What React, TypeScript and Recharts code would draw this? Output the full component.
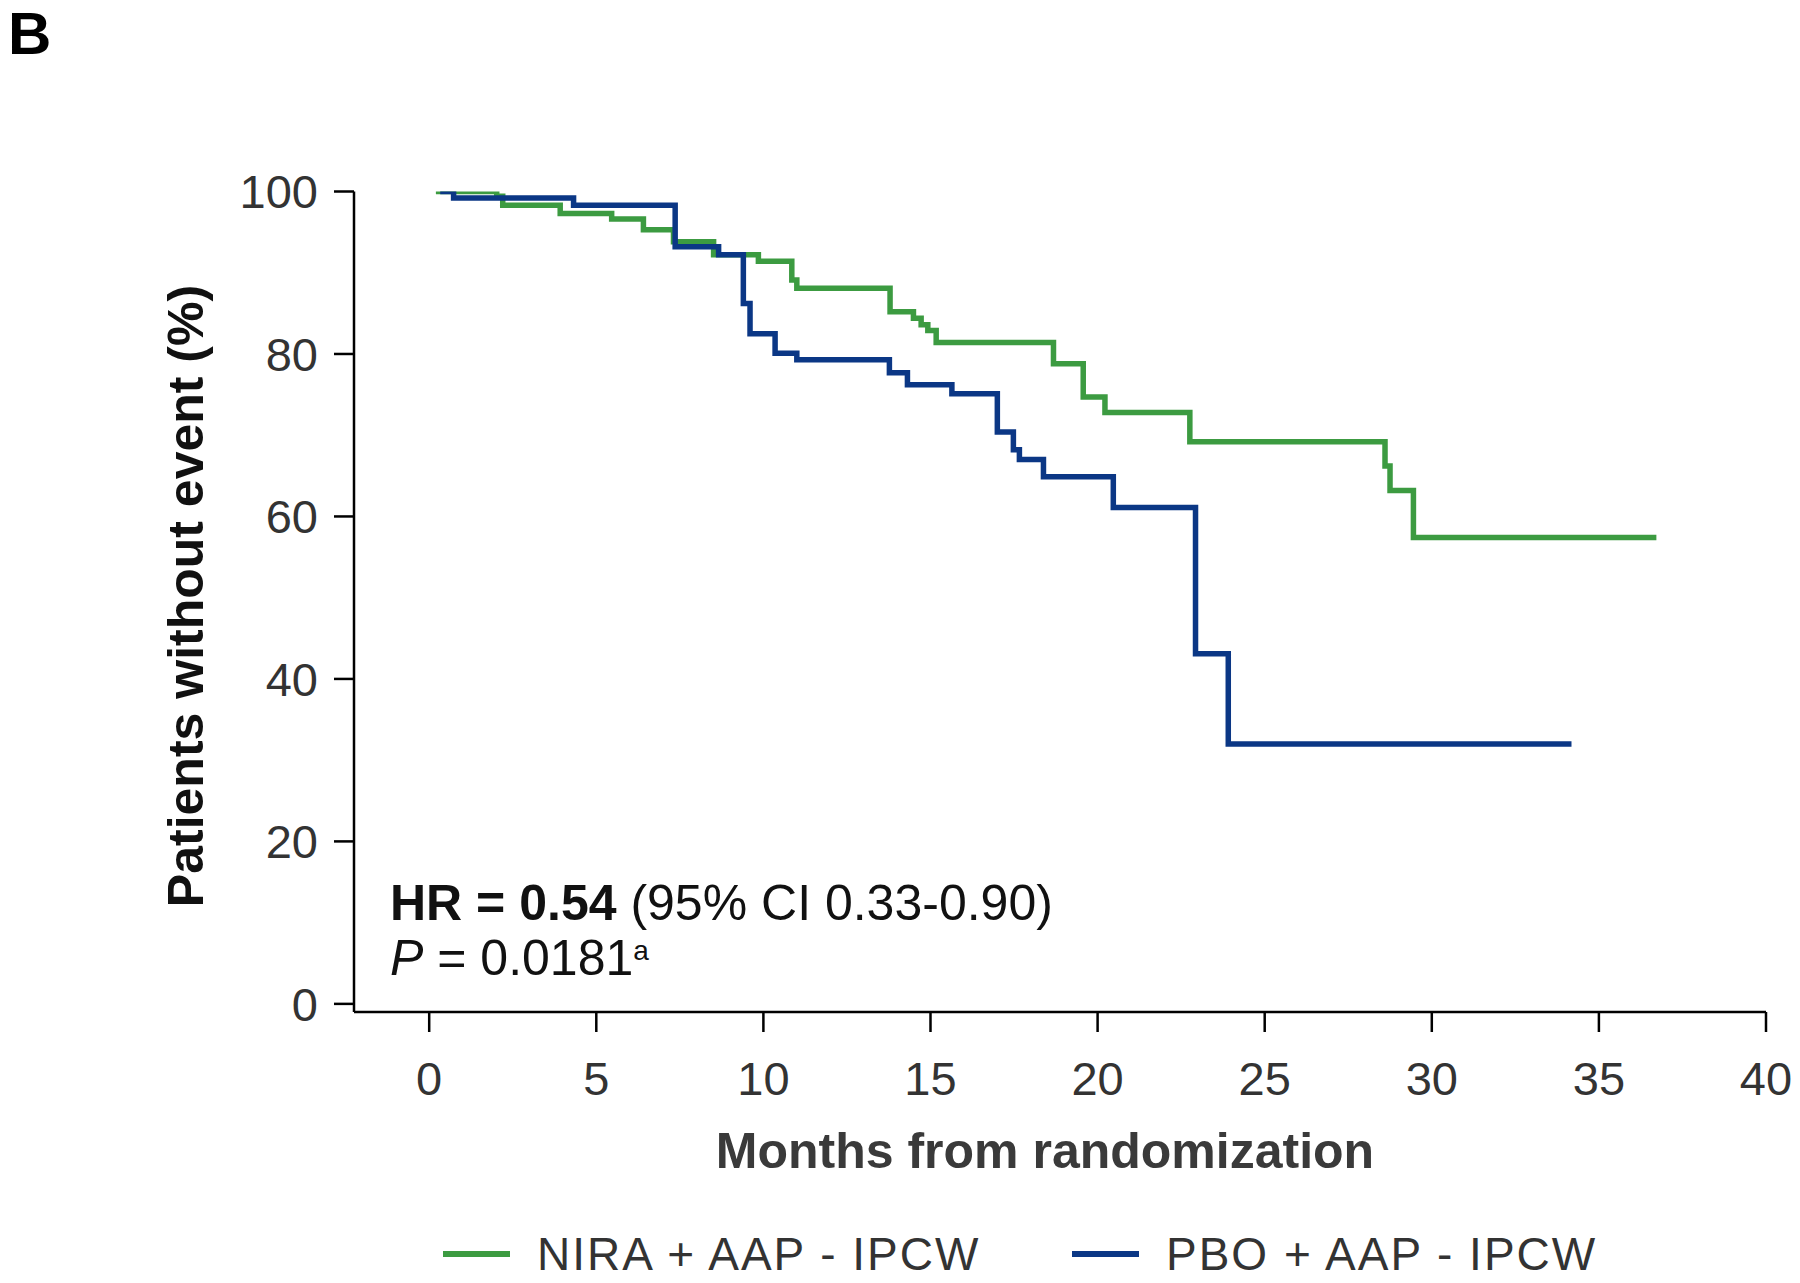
import React from "react"
import { LineChart, Line, XAxis, YAxis } from "recharts"

// Kaplan-Meier steps: month at which each level starts, % without event
const niraSteps = [
  { month: 0.2, pct: 100 },
  { month: 2.02, pct: 99.4 },
  { month: 2.2, pct: 98.3 },
  { month: 3.92, pct: 97.3 },
  { month: 5.46, pct: 96.6 },
  { month: 6.41, pct: 95.3 },
  { month: 7.31, pct: 93.8 },
  { month: 8.51, pct: 92.2 },
  { month: 9.85, pct: 91.4 },
  { month: 10.85, pct: 89.1 },
  { month: 11.0, pct: 88.1 },
  { month: 13.79, pct: 85.2 },
  { month: 14.49, pct: 84.4 },
  { month: 14.72, pct: 83.6 },
  { month: 14.92, pct: 82.9 },
  { month: 15.17, pct: 81.4 },
  { month: 18.68, pct: 78.8 },
  { month: 19.57, pct: 74.7 },
  { month: 20.22, pct: 72.8 },
  { month: 22.76, pct: 69.2 },
  { month: 28.6, pct: 66.2 },
  { month: 28.75, pct: 63.2 },
  { month: 29.45, pct: 57.4 },
  { month: 36.72, pct: 57.4 },
]

const pboSteps = [
  { month: 0.33, pct: 100 },
  { month: 0.73, pct: 99.2 },
  { month: 4.32, pct: 98.3 },
  { month: 7.36, pct: 93.2 },
  { month: 8.66, pct: 92.2 },
  { month: 9.4, pct: 86.2 },
  { month: 9.6, pct: 82.5 },
  { month: 10.35, pct: 80.1 },
  { month: 11.0, pct: 79.3 },
  { month: 13.77, pct: 77.7 },
  { month: 14.31, pct: 76.2 },
  { month: 15.64, pct: 75.1 },
  { month: 17.0, pct: 70.4 },
  { month: 17.48, pct: 68.2 },
  { month: 17.66, pct: 67.0 },
  { month: 18.38, pct: 64.9 },
  { month: 20.47, pct: 61.1 },
  { month: 22.93, pct: 43.1 },
  { month: 23.91, pct: 32.0 },
  { month: 34.18, pct: 32.0 },
]

const xTicks = [0, 5, 10, 15, 20, 25, 30, 35, 40]
const yTicks = [0, 20, 40, 60, 80, 100]

const GREEN = "#3c9b41"
const BLUE = "#0b3785"
const FONT = '"Liberation Sans", Arial, Helvetica, sans-serif'

const tickStyle = { fontSize: 47, fill: "#333", fontFamily: FONT }
const axisStroke = { stroke: "#000", strokeWidth: 2.5 }

export default function App() {
  return (
    <div
      style={{
        position: "relative",
        width: 1800,
        height: 1283,
        margin: -8,
        background: "#fff",
        fontFamily: FONT,
        overflow: "hidden",
      }}
    >
      <LineChart
        width={1800}
        height={1283}
        margin={{ top: 191.5, right: 34, bottom: 211, left: 234 }}
      >
        <XAxis
          type="number"
          dataKey="month"
          domain={[-2.25, 40]}
          ticks={xTicks}
          allowDataOverflow
          height={60}
          tick={tickStyle}
          tickSize={20}
          tickMargin={30}
          axisLine={axisStroke}
          tickLine={axisStroke}
        />
        <YAxis
          type="number"
          domain={[-1, 100]}
          ticks={yTicks}
          allowDataOverflow
          width={120}
          tick={tickStyle}
          tickSize={20}
          tickMargin={16}
          axisLine={axisStroke}
          tickLine={axisStroke}
        />
        <Line
          data={niraSteps}
          dataKey="pct"
          type="stepAfter"
          stroke={GREEN}
          strokeWidth={5.5}
          dot={false}
          activeDot={false}
          isAnimationActive={false}
        />
        <Line
          data={pboSteps}
          dataKey="pct"
          type="stepAfter"
          stroke={BLUE}
          strokeWidth={5.5}
          dot={false}
          activeDot={false}
          isAnimationActive={false}
        />
      </LineChart>

      <div
        style={{
          position: "absolute",
          left: 8,
          top: 4,
          fontSize: 60,
          lineHeight: "60px",
          fontWeight: 700,
          color: "#000",
        }}
      >
        B
      </div>

      <div
        style={{
          position: "absolute",
          left: 186,
          top: 596,
          transform: "translate(-50%, -50%) rotate(-90deg)",
          fontSize: 50,
          lineHeight: "50px",
          fontWeight: 700,
          color: "#111",
          whiteSpace: "nowrap",
        }}
      >
        Patients without event (%)
      </div>

      <div
        style={{
          position: "absolute",
          left: 1045,
          top: 1127,
          transform: "translateX(-50%)",
          fontSize: 50,
          lineHeight: "48px",
          fontWeight: 700,
          color: "#3a3a3a",
          whiteSpace: "nowrap",
        }}
      >
        Months from randomization
      </div>

      <div
        style={{
          position: "absolute",
          left: 390,
          top: 876,
          fontSize: 50,
          lineHeight: "55px",
          color: "#111",
          whiteSpace: "nowrap",
        }}
      >
        <div>
          <b>HR = 0.54</b> (95% CI 0.33-0.90)
        </div>
        <div>
          <i>P</i> = 0.0181<sup style={{ fontSize: 28, verticalAlign: "top", lineHeight: "40px" }}>a</sup>
        </div>
      </div>

      <div
        style={{
          position: "absolute",
          left: 0,
          top: 1231,
          width: 1800,
          height: 46,
          fontSize: 46,
          lineHeight: "46px",
          letterSpacing: 2,
          color: "#333",
        }}
      >
        <div style={{ position: "absolute", left: 443, top: 20, width: 67, height: 6, background: GREEN }} />
        <div style={{ position: "absolute", left: 537, top: 0, whiteSpace: "nowrap" }}>NIRA + AAP - IPCW</div>
        <div style={{ position: "absolute", left: 1072, top: 20, width: 67, height: 6, background: BLUE }} />
        <div style={{ position: "absolute", left: 1166, top: 0, whiteSpace: "nowrap" }}>PBO + AAP - IPCW</div>
      </div>
    </div>
  )
}
